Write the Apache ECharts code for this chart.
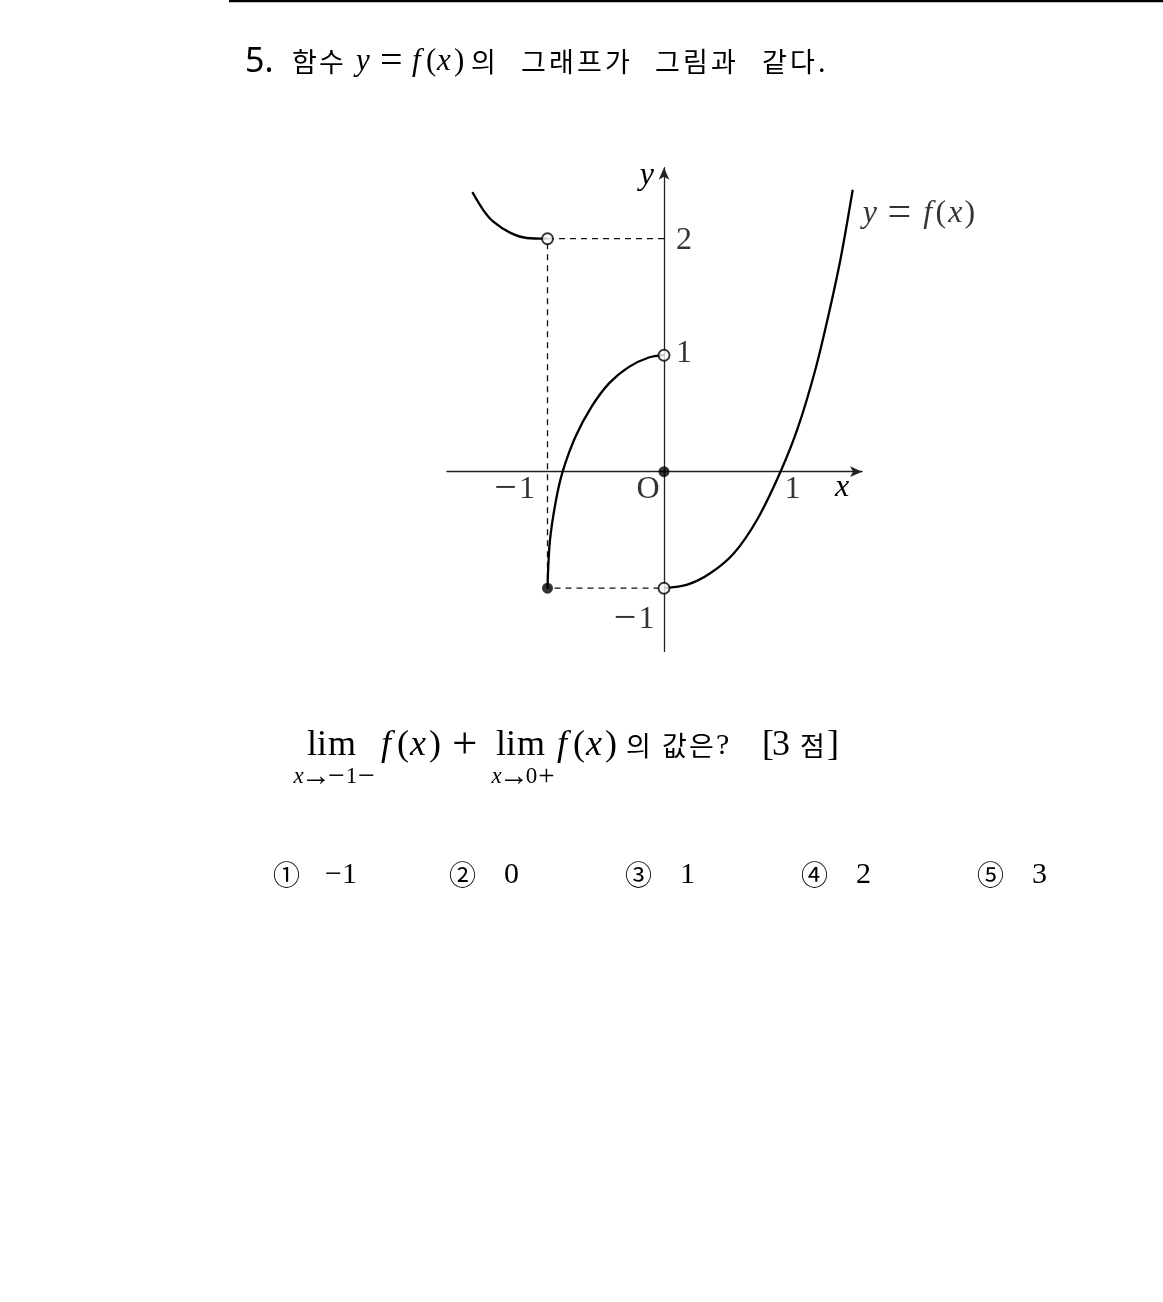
<!DOCTYPE html>
<html><head><meta charset="utf-8">
<script src="https://cdn.jsdelivr.net/npm/echarts@6/dist/echarts.min.js"></script>
<style>html,body{margin:0;padding:0;background:#fff}#c{width:1163px;height:1302px}</style>
</head><body><div id="c"></div>
<script>
// ---- data ----
const upperLeftBranch = [[-1.645,2.40],[-1.551,2.246],[-1.465,2.146],[-1.322,2.052],[-1.179,2.006],[-1,2]];
const middleBranch = [[-1,-1],[-0.98,-0.6],[-0.93,-0.26],[-0.87,0],[-0.76,0.3],[-0.62,0.56],[-0.47,0.76],[-0.3,0.9],[-0.13,0.98],[0,1]];
const rightBranch = [[0,-1],[0.2,-0.97],[0.4,-0.87],[0.6,-0.70],[0.8,-0.41],[1,0],[1.15,0.38],[1.3,0.88],[1.42,1.38],[1.52,1.85],[1.62,2.42]];
const guidePath = [[0,2],[-1,2],[-1,-1],[0,-1]];
const openPoints = [[-1,2],[0,1],[0,-1]];
const closedPoints = [[0,0],[-1,-1]];
const xTickValues = [-1, 0, 1];
const xTickLabels = ['{m|−}{d|1}', '{d|O}', '{d|1}'];
const yTickValues = [2, 1, -1];
const yTickLabels = ['{d|2}', '{d|1}', '{m|−}{d|1}'];
const choiceMarks = ['①','②','③','④','⑤'];
const choiceValues = ['−1','0','1','2','3'];

// ---- layout / style ----
const unit = 116.5, originX = 664, originY = 471.7;
const xMin = -1.863, xMax = 1.70, yMin = -1.543, yMax = 2.61;
const xLabelOffsets = [[-34,18],[-16,18],[12,18]];
const yLabelOffsets = [[20,2],[20,-2],[-31,31]];
const SERIF = "'Liberation Serif','Noto Sans CJK KR'";
const KO = "'Noto Sans CJK KR'";

function mathRich(s){
  const b = {fontFamily:SERIF, fontSize:s, color:'#000'};
  const it = Object.assign({}, b, {fontStyle:'italic'});
  const w = (o, k) => Object.assign({}, o, {width:Math.round(k*s)});
  return {
    f:w(it,0.44), x:w(it,0.54), y:w(it,0.50),
    p:w(b,0.36), s:w(b,0.27), d:w(b,0.5),
    l:w(b,0.28), m1:w(b,0.83),
    eq:Object.assign({}, b, {fontSize:Math.round(1.3*s), width:Math.round(0.78*s)}),
    mn:Object.assign({}, b, {fontSize:Math.round(1.3*s), width:Math.round(0.78*s)}),
    pl:Object.assign({}, b, {fontSize:Math.round(1.25*s), width:Math.round(0.78*s)}),
    ar:Object.assign({}, b, {fontSize:Math.round(1.3*s), width:Math.round(1.0*s)}),
    br:w(b,0.28)
  };
}
function koRich(size, w){ return {fontFamily:KO, fontSize:size, color:'#000', width:w}; }
function chars(str, st){ return Array.from(str).map(c => '{'+st+'|'+c+'}').join(''); }
const FX = '{f|f}{p|(}{x|x}{p|)}';
const YEQ = '{y|y}{s| }{eq|=}{s| }';
const LIM = '{l|l}{l|i}{m1|m}';

function txt(x, y, text, rich, align){
  return {type:'text', x, y, silent:true, style:{text, rich, align:align||'left', verticalAlign:'middle'}};
}

const chart = echarts.init(document.getElementById('c'), null, {renderer:'canvas'});
const curveStyle = {color:'#000', width:2.3};
function curve(data){
  return {type:'line', data, smooth:0.3, symbol:'none', lineStyle:curveStyle, silent:true, z:3};
}
const endPt = rightBranch[rightBranch.length-1];

const titleRich = Object.assign(mathRich(31), {k:koRich(27,27), k2:koRich(27,28)});
const lineRich = Object.assign(mathRich(36), {k:koRich(27,27), q:{fontFamily:SERIF, fontSize:30, color:'#000'}});
const subRich = mathRich(23);

const graphics = [
  {type:'line', silent:true, shape:{x1:229,y1:1,x2:1163,y2:1}, style:{stroke:'#000', lineWidth:2.6}},
  {type:'text', x:245, y:62, silent:true, style:{text:'5.', font:"400 34px 'Noto Sans'", fill:'#000', align:'left', verticalAlign:'middle'}},
  txt(292, 62, chars('함수','k'), titleRich),
  txt(356, 62, YEQ + FX, titleRich),
  txt(471, 62, chars('의','k'), titleRich),
  txt(521, 62, chars('그래프가','k2'), titleRich),
  txt(655, 62, chars('그림과','k2'), titleRich),
  txt(762, 62, chars('같다','k2') + '{k|.}', titleRich),
  // limit expression
  txt(332, 746, LIM, lineRich, 'center'),
  txt(334, 777, '{x|x}{ar|→}{mn|−}{d|1}{mn|−}', subRich, 'center'),
  txt(381, 746, FX + '{s| }{pl|+}', lineRich),
  txt(521, 746, LIM, lineRich, 'center'),
  txt(523, 777, '{x|x}{ar|→}{d|0}{pl|+}', subRich, 'center'),
  txt(557, 746, FX, lineRich),
  txt(626, 746, chars('의','k'), lineRich),
  txt(662, 746, '{k|값}{k|은}{q|?}', lineRich),
  txt(762, 746, '{br|[}{d|3}{s| }{k|점}{br|]}', lineRich)
];
choiceMarks.forEach((m, idx) => {
  const x0 = 273 + idx*176;
  graphics.push({type:'text', x:x0, y:875, silent:true, style:{text:m, font:"27px 'Noto Sans CJK KR'", fill:'#000', align:'left', verticalAlign:'middle'}});
  graphics.push({type:'text', x:x0 + (idx===0?52:55), y:875, silent:true, style:{text:choiceValues[idx], font:"30px 'Liberation Serif'", fill:'#000', align:'left', verticalAlign:'middle'}});
});

function axisCommon(){
  return {
    axisLine:{show:true, onZero:true, symbol:['none','arrow'], symbolSize:[8,12], lineStyle:{color:'#222', width:1.3}},
    axisTick:{show:false}, axisLabel:{show:false}, splitLine:{show:false}
  };
}
const tickRich = {
  d:{fontFamily:SERIF, fontSize:32, color:'#000'},
  m:{fontFamily:SERIF, fontSize:40, color:'#000', width:27}
};

const option = {
  animation:false,
  backgroundColor:'#fff',
  grid:{left:originX + xMin*unit, width:(xMax-xMin)*unit, top:originY - yMax*unit, height:(yMax-yMin)*unit, containLabel:false},
  xAxis:Object.assign({type:'value', min:xMin, max:xMax, name:'x', nameLocation:'end', nameGap:-20,
    nameTextStyle:{fontFamily:SERIF, fontStyle:'italic', fontSize:32, color:'#000', align:'center', verticalAlign:'top', padding:[0,0,0,0]}}, axisCommon()),
  yAxis:Object.assign({type:'value', min:yMin, max:yMax, name:'y', nameLocation:'end', nameGap:-8,
    nameTextStyle:{fontFamily:SERIF, fontStyle:'italic', fontSize:32, color:'#000', align:'right', verticalAlign:'middle', padding:[0,10,0,0]}}, axisCommon()),
  graphic:graphics,
  series:[
    {type:'line', data:guidePath, symbol:'none', silent:true, z:2, lineStyle:{color:'#111', width:1.3, type:[6,5]}},
    curve(upperLeftBranch),
    curve(middleBranch),
    curve(rightBranch),
    {type:'scatter', data:openPoints, symbol:'circle', symbolSize:11, silent:true, z:5,
      itemStyle:{color:'#fff', borderColor:'#000', borderWidth:1.9}},
    {type:'scatter', data:closedPoints, symbol:'circle', symbolSize:11, silent:true, z:5,
      itemStyle:{color:'#000'}},
    {type:'scatter', silent:true, z:6, symbolSize:1, itemStyle:{color:'rgba(0,0,0,0)'},
      data:xTickValues.map((v,i)=>({value:[v,0], label:{formatter:xTickLabels[i], offset:xLabelOffsets[i]}})),
      label:{show:true, position:'inside', rich:tickRich}},
    {type:'scatter', silent:true, z:6, symbolSize:1, itemStyle:{color:'rgba(0,0,0,0)'},
      data:yTickValues.map((v,i)=>({value:[0,v], label:{formatter:yTickLabels[i], offset:yLabelOffsets[i]}})),
      label:{show:true, position:'inside', rich:tickRich}},
    {type:'scatter', silent:true, z:6, symbolSize:1, itemStyle:{color:'rgba(0,0,0,0)'},
      data:[{value:endPt, label:{formatter:YEQ + FX}}],
      label:{show:true, position:'inside', offset:[66,24], rich:mathRich(32)}}
  ]
};
chart.setOption(option);
</script></body></html>
